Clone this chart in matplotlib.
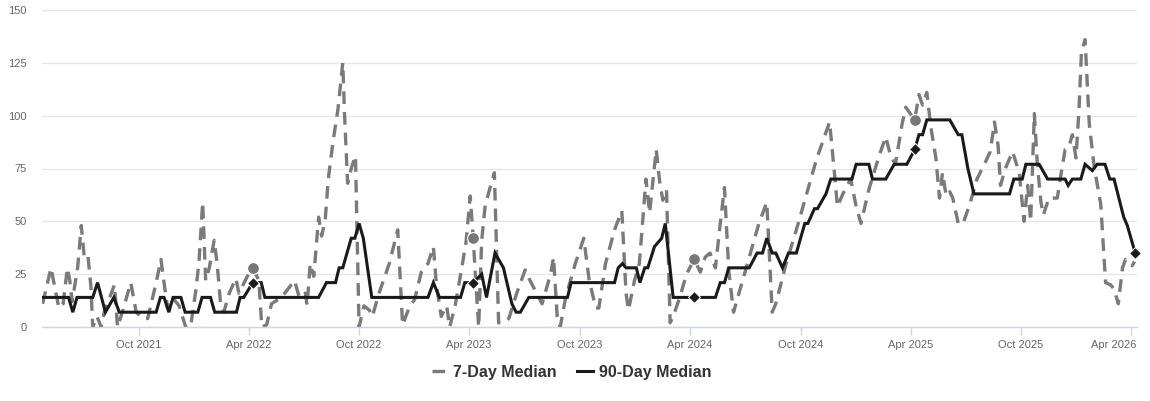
import numpy as np
import pandas as pd
import matplotlib
matplotlib.use("Agg")
import matplotlib.pyplot as plt
import matplotlib.dates as mdates
import matplotlib.transforms as mtransforms
from matplotlib.lines import Line2D

plt.rcParams['font.family'] = ['Liberation Sans', 'DejaVu Sans']

# 90-day median (solid black line)
dates_90 = ["2021-04-25", "2021-06-07", "2021-06-14", "2021-06-21", "2021-07-17", "2021-07-25",
            "2021-08-07", "2021-08-21", "2021-08-30", "2021-10-30", "2021-11-06", "2021-11-12",
            "2021-11-20", "2021-11-27", "2021-12-10", "2021-12-17", "2022-01-07", "2022-01-14",
            "2022-01-28", "2022-02-04", "2022-03-12", "2022-03-18", "2022-03-24", "2022-04-08",
            "2022-04-22", "2022-04-28", "2022-07-26", "2022-08-08", "2022-08-23", "2022-08-29",
            "2022-09-04", "2022-09-18", "2022-09-24", "2022-10-01", "2022-10-08", "2022-10-22",
            "2023-01-23", "2023-02-01", "2023-02-11", "2023-03-18", "2023-03-25", "2023-04-08",
            "2023-04-22", "2023-04-30", "2023-05-14", "2023-05-28", "2023-06-11", "2023-06-18",
            "2023-06-25", "2023-07-09", "2023-09-11", "2023-09-17", "2023-11-28", "2023-12-04",
            "2023-12-11", "2023-12-17", "2024-01-03", "2024-01-09", "2024-01-17", "2024-01-22",
            "2024-02-02", "2024-02-14", "2024-02-20", "2024-03-04", "2024-05-13", "2024-05-21",
            "2024-05-28", "2024-06-04", "2024-07-08", "2024-07-21", "2024-07-30", "2024-08-06",
            "2024-08-15", "2024-08-21", "2024-09-01", "2024-09-11", "2024-09-24", "2024-10-08",
            "2024-10-13", "2024-10-24", "2024-10-29", "2024-11-12", "2024-11-20", "2024-12-25",
            "2025-01-01", "2025-01-22", "2025-01-28", "2025-02-19", "2025-03-05", "2025-03-26",
            "2025-04-08", "2025-04-15", "2025-04-21", "2025-04-28", "2025-06-05", "2025-06-19",
            "2025-06-25", "2025-07-05", "2025-07-15", "2025-09-12", "2025-09-19", "2025-10-03",
            "2025-10-09", "2025-10-31", "2025-11-14", "2025-12-13", "2025-12-18", "2025-12-25",
            "2026-01-08", "2026-01-15", "2026-01-27", "2026-02-04", "2026-02-17", "2026-02-25",
            "2026-03-04", "2026-03-20", "2026-03-26", "2026-04-08"]
vals_90 = [14, 14, 7, 14, 14, 21,
           7, 14, 7, 7, 14, 14,
           7, 14, 14, 7, 7, 14,
           14, 7, 7, 14, 14, 21,
           21, 14, 14, 21, 21, 28,
           28, 42, 42, 49, 42, 14,
           14, 21, 14, 14, 21, 21,
           25, 14, 35, 28, 11, 7,
           7, 14, 14, 21, 21, 28,
           30, 28, 28, 21, 28, 28,
           38, 42, 49, 14, 14, 21,
           21, 28, 28, 35, 35, 42,
           35, 35, 28, 35, 35, 49,
           49, 56, 56, 63, 70, 70,
           77, 77, 70, 70, 77, 77,
           84, 91, 91, 98, 98, 91,
           91, 75, 63, 63, 70, 70,
           77, 77, 70, 70, 67, 70,
           70, 77, 74, 77, 77, 70,
           70, 52, 48, 35]

# 7-day median (dashed grey line)
dates_7 = ["2021-04-25", "2021-05-09", "2021-05-15", "2021-05-22", "2021-05-29", "2021-06-05",
           "2021-06-09", "2021-06-13", "2021-06-22", "2021-06-28", "2021-07-03", "2021-07-09",
           "2021-07-14", "2021-07-17", "2021-07-24", "2021-07-31", "2021-08-05", "2021-08-22",
           "2021-08-27", "2021-09-05", "2021-09-18", "2021-09-27", "2021-10-08", "2021-10-16",
           "2021-10-30", "2021-11-07", "2021-11-12", "2021-11-18", "2021-11-26", "2021-12-07",
           "2021-12-18", "2021-12-26", "2022-01-04", "2022-01-09", "2022-01-15", "2022-01-20",
           "2022-01-26", "2022-02-03", "2022-02-08", "2022-02-14", "2022-02-19", "2022-02-28",
           "2022-03-11", "2022-03-16", "2022-03-30", "2022-04-08", "2022-04-18", "2022-04-23",
           "2022-05-01", "2022-05-09", "2022-05-20", "2022-05-31", "2022-06-16", "2022-06-24",
           "2022-07-04", "2022-07-07", "2022-07-12", "2022-07-18", "2022-07-26", "2022-07-31",
           "2022-08-06", "2022-08-11", "2022-08-19", "2022-08-27", "2022-09-04", "2022-09-07",
           "2022-09-12", "2022-09-19", "2022-09-25", "2022-10-01", "2022-10-09", "2022-10-18",
           "2022-10-23", "2022-11-03", "2022-11-20", "2022-12-04", "2022-12-12", "2022-12-24",
           "2023-01-01", "2023-01-12", "2023-01-23", "2023-02-01", "2023-02-06", "2023-02-14",
           "2023-02-23", "2023-02-28", "2023-03-09", "2023-03-20", "2023-03-27", "2023-04-03",
           "2023-04-08", "2023-04-11", "2023-04-17", "2023-04-22", "2023-04-28", "2023-05-06",
           "2023-05-13", "2023-05-20", "2023-05-25", "2023-06-06", "2023-06-19", "2023-07-03",
           "2023-07-11", "2023-07-20", "2023-07-31", "2023-08-14", "2023-08-19", "2023-08-25",
           "2023-08-30", "2023-09-08", "2023-09-24", "2023-10-08", "2023-10-17", "2023-10-28",
           "2023-11-02", "2023-11-13", "2023-11-28", "2023-12-10", "2023-12-17", "2023-12-21",
           "2023-12-31", "2024-01-08", "2024-01-19", "2024-01-25", "2024-02-01", "2024-02-05",
           "2024-02-11", "2024-02-16", "2024-02-22", "2024-02-28", "2024-03-04", "2024-03-15",
           "2024-03-26", "2024-04-08", "2024-04-18", "2024-04-26", "2024-05-04", "2024-05-13",
           "2024-05-21", "2024-05-28", "2024-06-04", "2024-06-12", "2024-06-24", "2024-07-08",
           "2024-07-24", "2024-08-06", "2024-08-15", "2024-08-21", "2024-09-07", "2024-09-24",
           "2024-10-10", "2024-10-27", "2024-11-18", "2024-11-26", "2024-12-01", "2024-12-10",
           "2024-12-23", "2025-01-01", "2025-01-09", "2025-01-22", "2025-02-08", "2025-02-19",
           "2025-02-27", "2025-03-07", "2025-03-18", "2025-03-24", "2025-03-29", "2025-04-08",
           "2025-04-15", "2025-04-21", "2025-04-28", "2025-05-05", "2025-05-13", "2025-05-19",
           "2025-05-24", "2025-05-30", "2025-06-05", "2025-06-10", "2025-06-19", "2025-06-27",
           "2025-07-08", "2025-07-20", "2025-08-03", "2025-08-11", "2025-08-18", "2025-08-24",
           "2025-08-28", "2025-09-05", "2025-09-17", "2025-09-28", "2025-10-06", "2025-10-12",
           "2025-10-17", "2025-10-23", "2025-10-28", "2025-11-03", "2025-11-07", "2025-11-16",
           "2025-11-30", "2025-12-06", "2025-12-13", "2025-12-19", "2025-12-25", "2025-12-31",
           "2026-01-05", "2026-01-09", "2026-01-15", "2026-01-22", "2026-01-30", "2026-02-10",
           "2026-02-18", "2026-02-26", "2026-03-04", "2026-03-11", "2026-03-18", "2026-03-23",
           "2026-04-03", "2026-04-07"]
vals_7 = [11, 28, 19, 9, 11, 28,
          22, 12, 28, 48, 33, 34,
          19, 0, 5, 0, 7, 20,
          0, 8, 21, 7, 4, 4,
          21, 32, 21, 9, 14, 10,
          0, 0, 18, 31, 59, 22,
          28, 41, 30, 10, 7, 16,
          23, 16, 24, 28, 22, 0,
          1, 11, 13, 16, 22, 14,
          16, 10, 30, 24, 52, 43,
          51, 70, 88, 103, 125, 100,
          68, 76, 81, 0, 10, 8,
          5, 16, 30, 46, 1, 10,
          13, 26, 30, 38, 20, 5,
          10, 0, 10, 28, 40, 62,
          42, 27, 0, 41, 58, 66,
          73, 2, 2, 4, 16, 27,
          22, 17, 11, 25, 33, 5,
          0, 14, 30, 42, 22, 9,
          9, 30, 46, 55, 16, 8,
          22, 30, 70, 54, 73, 84,
          68, 60, 65, 2, 5, 14,
          25, 32, 26, 33, 35, 28,
          49, 66, 27, 7, 19, 33,
          49, 59, 7, 11, 30, 46,
          62, 79, 97, 73, 57, 63,
          70, 57, 49, 65, 81, 90,
          81, 77, 96, 104, 102, 98,
          110, 105, 111, 94, 80, 61,
          73, 62, 64, 61, 49, 49,
          58, 70, 78, 83, 97, 86,
          67, 75, 83, 73, 50, 67,
          50, 101, 77, 59, 53, 61,
          61, 72, 84, 85, 91, 80,
          103, 130, 136, 96, 76, 58,
          21, 20, 18, 11, 28, 32,
          29, 31]

# same-day-each-year markers
mark_dates_7 = ["2022-04-08", "2023-04-08", "2024-04-08", "2025-04-08"]
mark_vals_7 = [28, 42, 32, 98]
mark_dates_90 = ["2022-04-08", "2023-04-08", "2024-04-08", "2025-04-08", "2026-04-08"]
mark_vals_90 = [21, 21, 14, 84, 35]

tick_dates = ["2021-10-01", "2022-04-01", "2022-10-01", "2023-04-01", "2023-10-01",
              "2024-04-01", "2024-10-01", "2025-04-01", "2025-10-01", "2026-04-01"]

grey = '#7a7a7a'
black = '#1a1a1a'

fig = plt.figure(figsize=(11.5, 4.01), dpi=100)
W, H = 1150, 401
ax = fig.add_axes([42 / W, 1 - 327 / H, (1137 - 42) / W, (327 - 10) / H])

ax.plot(pd.to_datetime(dates_7), vals_7, color=grey, lw=2.4, dashes=(3.8, 2.4),
        solid_capstyle='butt', dash_capstyle='butt', zorder=2)
ax.plot(pd.to_datetime(dates_90), vals_90, color=black, lw=2.2, zorder=3,
        solid_joinstyle='miter')

ax.plot(pd.to_datetime(mark_dates_7), mark_vals_7, ls='none', marker='o', ms=8.5,
        color='#777777', mec='white', mew=0.8, zorder=4, clip_on=False)
ax.plot(pd.to_datetime(mark_dates_90), mark_vals_90, ls='none', marker='D', ms=6.5,
        color=black, mec='white', mew=0.8, zorder=5, clip_on=False)

ax.set_xlim(pd.Timestamp("2021-04-24"), pd.Timestamp("2026-04-11"))
ax.set_ylim(0, 150)
ax.set_yticks(np.arange(0, 151, 25))
ax.set_xticks(pd.to_datetime(tick_dates))
ax.xaxis.set_major_formatter(mdates.DateFormatter('%b %Y'))

ax.grid(axis='y', color='#e6e6e6', lw=1)
ax.set_axisbelow(True)
for s in ['top', 'right', 'left']:
    ax.spines[s].set_visible(False)
ax.spines['bottom'].set_color('#ccd6eb')
ax.spines['bottom'].set_linewidth(1)
ax.tick_params(axis='y', length=0, pad=11, labelsize=8, labelcolor='#666666')
ax.tick_params(axis='x', length=6, width=1, color='#ccd6eb', pad=3,
               labelsize=8, labelcolor='#666666')

# last label is pushed inside the chart edge, as in the reference
last = ax.get_xticklabels()[-1]
last.set_horizontalalignment('right')
last.set_transform(last.get_transform() +
                   mtransforms.ScaledTranslation(5 / 100, 0, fig.dpi_scale_trans))

handles = [Line2D([0], [0], color=grey, lw=2.4, dashes=(3.8, 2.4)),
           Line2D([0], [0], color=black, lw=2.2)]
leg = fig.legend(handles, ['7-Day Median', '90-Day Median'], loc='center',
                 bbox_to_anchor=(0.497, 0.072), ncol=2, frameon=False,
                 handlelength=1.0, handletextpad=0.35, columnspacing=1.3,
                 prop={'weight': 'bold', 'size': 11.5})
for t in leg.get_texts():
    t.set_color('#333333')

fig.savefig('out.png', dpi=100)
